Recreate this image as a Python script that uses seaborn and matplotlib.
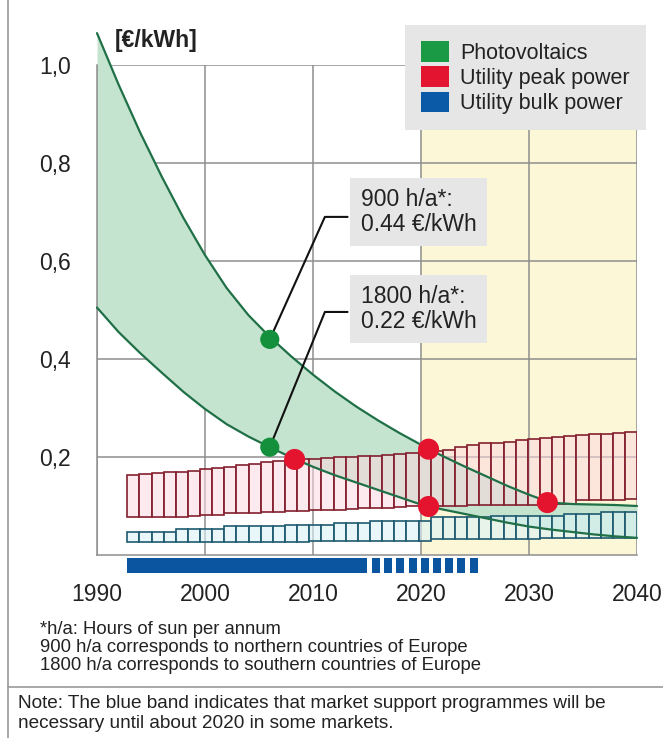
import matplotlib
matplotlib.use("Agg")
import matplotlib.pyplot as plt
from matplotlib.patches import Patch
from matplotlib.lines import Line2D
import pandas as pd
import seaborn as sns

# ---------------- data ----------------
years = [1990, 1992, 1994, 1996, 1998, 2000, 2002, 2004, 2006, 2008, 2010, 2012, 2014,
         2016, 2018, 2020, 2022, 2024, 2026, 2028, 2030, 2032, 2034, 2036, 2038, 2040]
pv_900h = [1.065, 0.96, 0.862, 0.772, 0.688, 0.612, 0.545, 0.49, 0.445, 0.405, 0.368, 0.334, 0.303,
           0.275, 0.249, 0.225, 0.202, 0.181, 0.161, 0.141, 0.123, 0.107, 0.104, 0.103, 0.102, 0.10]
pv_1800h = [0.505, 0.455, 0.412, 0.372, 0.333, 0.298, 0.267, 0.242, 0.22, 0.199, 0.18, 0.163, 0.148,
            0.133, 0.118, 0.103, 0.093, 0.084, 0.075, 0.066, 0.058, 0.052, 0.047, 0.042, 0.038, 0.035]

# utility price bands, one step per period
peak_low = [0.077, 0.077, 0.077, 0.078, 0.078, 0.079, 0.081, 0.081, 0.085, 0.086, 0.086, 0.087, 0.088,
            0.090, 0.090, 0.091, 0.091, 0.092, 0.094, 0.095, 0.095, 0.096, 0.097, 0.099, 0.100, 0.100,
            0.101, 0.101, 0.102, 0.102, 0.102, 0.103, 0.103, 0.103, 0.104, 0.104, 0.105,
            0.112, 0.112, 0.113, 0.113, 0.114]
peak_high = [0.163, 0.165, 0.167, 0.169, 0.170, 0.172, 0.175, 0.178, 0.180, 0.183, 0.186, 0.189, 0.192,
             0.193, 0.195, 0.196, 0.198, 0.199, 0.200, 0.202, 0.203, 0.205, 0.207, 0.209, 0.211, 0.213,
             0.214, 0.221, 0.224, 0.228, 0.229, 0.231, 0.235, 0.236, 0.238, 0.240, 0.243, 0.244, 0.246,
             0.247, 0.250, 0.252]
bulk_low = [0.027] * 15 + [0.029] * 10 + [0.032] * 9 + [0.035] * 8
bulk_high = ([0.047] * 4 + [0.054] * 4 + [0.060] * 5 + [0.062] * 4 + [0.065] * 3 + [0.070] * 5
             + [0.077] * 5 + [0.080] * 6 + [0.083] * 3 + [0.087] * 3)
band_first_year = 1992.8
band_step = 1.124

# market support programme periods
support_solid = (1992.8, 2015.0)
support_dashes = [2015.5, 2016.6, 2017.7, 2018.9, 2020.0, 2021.1, 2022.2, 2023.3, 2024.5]
support_dash_len = 0.75

# highlighted points
pv_dot_years = [2006, 2006]
pv_dot_vals = [0.44, 0.22]
cross_years = [2008.3, 2020.7, 2020.7, 2031.7]
cross_vals = [0.195, 0.216, 0.099, 0.107]

legend_labels = ["Photovoltaics", "Utility peak power", "Utility bulk power"]
legend_colors = ["#1a9a44", "#e3142f", "#0b5aa8"]
x_ticks = [1990, 2000, 2010, 2020, 2030, 2040]
y_ticks = [0.2, 0.4, 0.6, 0.8, 1.0]
y_tick_labels = ["0,2", "0,4", "0,6", "0,8", "1,0"]

# ---------------- style ----------------
sns.set_theme(style="white")
plt.rcParams["font.family"] = ["Liberation Sans", "DejaVu Sans"]
TXT = "#222222"
GRID = "#8e8e8e"

W, H = 663, 738
fig = plt.figure(figsize=(W / 100, H / 100), dpi=100)
ax = fig.add_axes([97 / W, 1 - 555 / H, 540 / W, 490 / H])
ax.set_xlim(1990, 2040)
ax.set_ylim(0, 1.0)

# future period highlight
ax.axvspan(2020, 2040, color="#fcf7d7", zorder=0)

ax.set_xticks(x_ticks)
ax.set_yticks(y_ticks)
ax.set_yticklabels(y_tick_labels)
ax.grid(True, color=GRID, lw=1.1, zorder=1)
ax.tick_params(length=0, labelsize=16.5, labelcolor=TXT)
ax.tick_params(axis="x", pad=20)
ax.tick_params(axis="y", pad=19)
for side in ["top", "right"]:
    ax.spines[side].set_visible(False)
for side in ["left", "bottom"]:
    ax.spines[side].set_color(GRID)
    ax.spines[side].set_linewidth(1.1)

pv = pd.DataFrame({"year": years, "900 h/a": pv_900h, "1800 h/a": pv_1800h})

# photovoltaic cost corridor
ax.fill_between(pv["year"], pv["1800 h/a"], pv["900 h/a"], color="#c5e4cf",
                lw=0, zorder=2, clip_on=False)

# utility power bands
n_band = len(peak_low)
band_x = [band_first_year + i * band_step for i in range(n_band)]
ax.bar(band_x, [h - l for h, l in zip(peak_high, peak_low)], bottom=peak_low,
       width=band_step, align="edge", facecolor=(0.99, 0.85, 0.88, 0.55),
       edgecolor="#84202f", lw=1.2, zorder=3)
ax.bar(band_x, [h - l for h, l in zip(bulk_high, bulk_low)], bottom=bulk_low,
       width=band_step, align="edge", facecolor=(0.86, 0.95, 0.97, 0.6),
       edgecolor="#1f5a70", lw=1.2, zorder=3)

# PV cost curves
for col in ["900 h/a", "1800 h/a"]:
    sns.lineplot(data=pv, x="year", y=col, ax=ax, color="#1f7047", lw=1.6,
                 zorder=4, clip_on=False)

# market support band below the axis
ax.bar([support_solid[0]], [-0.031], bottom=-0.006, width=support_solid[1] - support_solid[0],
       align="edge", color="#0b55a0", lw=0, clip_on=False, zorder=5)
ax.bar(support_dashes, [-0.031] * len(support_dashes), bottom=-0.006, width=support_dash_len,
       align="edge", color="#0b55a0", lw=0, clip_on=False, zorder=5)

# leader lines to the annotation boxes
ax.plot([pv_dot_years[0], 2011.1, 2013.2], [pv_dot_vals[0], 0.69, 0.69],
        color="#111111", lw=1.5, zorder=5)
ax.plot([pv_dot_years[1], 2011.1, 2013.2], [pv_dot_vals[1], 0.496, 0.496],
        color="#111111", lw=1.5, zorder=5)

sns.scatterplot(x=pv_dot_years, y=pv_dot_vals, ax=ax, color="#14903c", s=190,
                edgecolor="none", zorder=6)
sns.scatterplot(x=cross_years, y=cross_vals, ax=ax, color="#e4142f", s=230,
                edgecolor="none", zorder=6)

box = dict(boxstyle="square,pad=0.45", facecolor="#e6e6e6", edgecolor="none")
ax.text(2014.4, 0.70, f"900 h/a*:\n{pv_dot_vals[0]:.2f} €/kWh", fontsize=16.5,
        color=TXT, va="center", ha="left", bbox=box, linespacing=1.1, zorder=7)
ax.text(2014.4, 0.502, f"1800 h/a*:\n{pv_dot_vals[1]:.2f} €/kWh", fontsize=16.5,
        color=TXT, va="center", ha="left", bbox=box, linespacing=1.1, zorder=7)

ax.set_xlabel("")
ax.set_ylabel("")
fig.text(115 / W, 1 - 41 / H, "[€/kWh]", fontsize=16.5, fontweight="bold",
         color=TXT, va="center", ha="left")

handles = [Patch(facecolor=c, edgecolor="none") for c in legend_colors]
leg = fig.legend(handles, legend_labels, loc="upper left",
                 bbox_to_anchor=(405 / W, 1 - 25 / H), bbox_transform=fig.transFigure,
                 frameon=True, fancybox=False, facecolor="#e6e6e6", edgecolor="none",
                 fontsize=15.5, handlelength=1.3, handleheight=1.1, handletextpad=0.5,
                 labelspacing=0.12, borderpad=0.75, borderaxespad=0)
leg.get_frame().set_alpha(1)
for t in leg.get_texts():
    t.set_color(TXT)

# footnotes
foot = ["*h/a: Hours of sun per annum",
        "900 h/a corresponds to northern countries of Europe",
        "1800 h/a corresponds to southern countries of Europe"]
for i, line in enumerate(foot):
    fig.text(40 / W, 1 - (629 + 18.5 * i) / H, line, fontsize=13.3, color=TXT,
             va="center", ha="left")
note = ["Note: The blue band indicates that market support programmes will be",
        "necessary until about 2020 in some markets."]
for i, line in enumerate(note):
    fig.text(18 / W, 1 - (703 + 21 * i) / H, line, fontsize=13.7, color=TXT,
             va="center", ha="left")

# page frame lines
fig.add_artist(Line2D([8 / W, 8 / W], [0, 1], color="#9a9a9a", lw=1.2))
fig.add_artist(Line2D([8 / W, 1], [1 - 687 / H, 1 - 687 / H], color="#9a9a9a", lw=1.2))

fig.savefig("out.png", dpi=100)
